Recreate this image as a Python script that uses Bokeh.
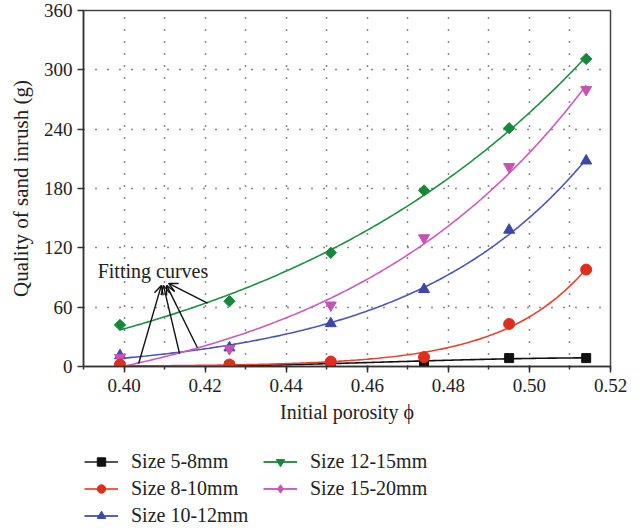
import numpy as np
from bokeh.plotting import figure
from bokeh.layouts import column
from bokeh.models import (Range1d, FixedTicker, NumeralTickFormatter, Legend, LegendItem,
                          Arrow, OpenHead, Label)
from bokeh.embed import file_html
from bokeh.resources import INLINE

# ---------------- data ----------------
porosity = [0.399, 0.426, 0.451, 0.474, 0.495, 0.514]
size_5_8 = [0.6, 0.9, 3, 5, 8.5, 8.5]
size_8_10 = [2, 2, 5, 9.5, 43, 98]
size_10_12 = [11, 19, 43.5, 78, 138, 208]
size_12_15 = [42, 66, 115, 178, 241, 311]
size_15_20 = [9, 18, 62, 130, 202, 280]
series_names = ["Size 5-8mm", "Size 8-10mm", "Size 10-12mm", "Size 12-15mm", "Size 15-20mm"]

x_ticks = [0.40, 0.42, 0.44, 0.46, 0.48, 0.50, 0.52]
x_minor = [0.39, 0.40, 0.41, 0.42, 0.43, 0.44, 0.45, 0.46, 0.47, 0.48, 0.49, 0.50, 0.51, 0.52]
x_grid = [0.40, 0.41, 0.42, 0.43, 0.44, 0.45, 0.46, 0.47, 0.48, 0.49, 0.50, 0.51]
y_ticks = [0, 60, 120, 180, 240, 300, 360]

annot_text = "Fitting curves"
annot_pos = (0.3935, 97)
arrow_tail_x = [0.4206, 0.4181, 0.4137, 0.4036]
arrow_tail_y = [64, 19, 13, 3]
arrow_head_x = [0.4110, 0.4105, 0.4097, 0.4092]
arrow_head_y = [84, 82, 82, 82]

FONT = "Liberation Serif"


def exp_fit(x, y):
    """least-squares fit of y = a*exp(b*x) + c (grid search over b)."""
    x = np.asarray(x, float)
    y = np.asarray(y, float)
    best = None
    for b in np.linspace(1, 120, 2000):
        A = np.column_stack([np.exp(b * (x - x[0])), np.ones_like(x)])
        coef, *_ = np.linalg.lstsq(A, y, rcond=None)
        res = np.sum((A @ coef - y) ** 2)
        if best is None or res < best[0]:
            best = (res, b, coef)
    _, b, coef = best
    return lambda t: coef[0] * np.exp(b * (t - x[0])) + coef[1]


def cubic_fit(x, y):
    coef = np.polyfit(x, y, 3)
    return lambda t: np.polyval(coef, t)


p = figure(width=642, height=440, x_range=Range1d(0.39, 0.52), y_range=Range1d(0, 360),
           output_backend="svg", toolbar_location=None,
           min_border_left=83, min_border_right=32, min_border_top=10, min_border_bottom=74)
p.outline_line_color = "#444444"
p.outline_line_width = 1.5

for ax in (p.xaxis[0], p.yaxis[0]):
    ax.axis_line_color = "#333333"
    ax.axis_line_width = 1.5
    ax.major_tick_line_color = "#333333"
    ax.major_tick_line_width = 1.5
    ax.minor_tick_line_color = "#333333"
    ax.minor_tick_line_width = 1.5
    ax.major_tick_in = 0
    ax.major_tick_out = 6
    ax.minor_tick_in = 0
    ax.major_label_text_font = FONT
    ax.major_label_text_font_size = "19px"
    ax.major_label_text_color = "#222222"
    ax.axis_label_text_font = FONT
    ax.axis_label_text_font_style = "normal"
    ax.axis_label_text_color = "#222222"

p.xaxis.ticker = FixedTicker(ticks=x_ticks, minor_ticks=x_minor)
p.xaxis.formatter = NumeralTickFormatter(format="0.00")
p.xaxis.minor_tick_out = 3
p.xaxis.major_label_standoff = 6
p.xaxis.axis_label = "Initial porosity \u03d5"
p.xaxis.axis_label_text_font_size = "20px"
p.xaxis.axis_label_standoff = 6

p.yaxis.ticker = FixedTicker(ticks=y_ticks, minor_ticks=[])
p.yaxis.minor_tick_out = 0
p.yaxis.major_label_standoff = 5
p.yaxis.axis_label = "Quality of sand inrush (g)"
p.yaxis.axis_label_text_font_size = "21px"
p.yaxis.axis_label_standoff = 8

p.xgrid.ticker = FixedTicker(ticks=x_grid)
p.ygrid.ticker = FixedTicker(ticks=y_ticks[1:-1])
for g in (p.xgrid[0], p.ygrid[0]):
    g.grid_line_color = "#111111"
    g.grid_line_width = 1.5
    g.grid_line_dash = "1 11"

# (values, marker colour, line colour, marker, angle, size, fit, legend marker, legend size)
styles = {
    "Size 5-8mm": (size_5_8, "#111111", "#111111", "square", 0.0, 9, cubic_fit, "square", 8),
    "Size 10-12mm": (size_10_12, "#3d47a8", "#4a55b8", "triangle", 0.0, 11, exp_fit, "triangle", 10),
    "Size 15-20mm": (size_15_20, "#c652b4", "#cc5abb", "inverted_triangle", 0.0, 11, exp_fit, "diamond", 14),
    "Size 12-15mm": (size_12_15, "#14893b", "#1f8f46", "square", np.pi / 4, 8, exp_fit, "inverted_triangle", 10),
    "Size 8-10mm": (size_8_10, "#e02d1c", "#e8402f", "circle", 0.0, 11, exp_fit, "circle", 9),
}
legend_line_colors = {"Size 5-8mm": "#555555", "Size 8-10mm": "#e8604f",
                      "Size 10-12mm": "#5560bd", "Size 12-15mm": "#2a9450",
                      "Size 15-20mm": "#cf62be"}

xs = np.linspace(min(porosity), max(porosity), 200)
for name, (vals, mcol, lcol, mk, ang, sz, fit, _, _) in styles.items():
    f = fit(porosity, vals)
    p.line(xs, f(xs), line_color=lcol, line_width=1.6)
for name, (vals, mcol, lcol, mk, ang, sz, fit, _, _) in styles.items():
    p.scatter(porosity, vals, marker=mk, angle=ang, size=sz, fill_color=mcol, line_color=mcol)

p.add_layout(Label(x=annot_pos[0], y=annot_pos[1], text=annot_text, text_font=FONT,
                   text_font_size="20px", text_color="#222222", text_baseline="middle",
                   text_align="left"))
for tx, ty, hx, hy in zip(arrow_tail_x, arrow_tail_y, arrow_head_x, arrow_head_y):
    p.add_layout(Arrow(x_start=tx, y_start=ty, x_end=hx, y_end=hy, line_color="#111111",
                       line_width=1.4, end=OpenHead(size=9, line_color="#111111", line_width=1.4)))

# ---------------- legend panel (separate figure below the chart) ----------------
lf = figure(width=642, height=90, x_range=Range1d(0, 1), y_range=Range1d(1000, 1001),
            x_axis_type=None, y_axis_type=None, output_backend="svg", toolbar_location=None,
            min_border_left=0, min_border_right=0, min_border_top=0, min_border_bottom=0)
lf.outline_line_color = None
lf.background_fill_color = "white"
lf.border_fill_color = "white"

items = []
for name in series_names:
    vals, mcol, lcol, mk, ang, sz, fit, legmk, legsz = styles[name]
    # series lie outside this panel's visible range; only their legend symbols show
    r1 = lf.line(porosity, vals, line_color=legend_line_colors[name], line_width=2)
    r2 = lf.scatter(porosity, vals, marker=legmk, size=legsz, fill_color=mcol, line_color=mcol)
    items.append(LegendItem(label=name, renderers=[r1, r2]))

legend = Legend(items=items, location=(1, 3), orientation="vertical", nrows=3,
                glyph_width=34, glyph_height=21, label_height=21, label_width=128,
                label_standoff=13, spacing=4, padding=0, margin=0,
                border_line_color=None, background_fill_alpha=0,
                label_text_font=FONT, label_text_font_size="20px", label_text_color="#222222")
lf.add_layout(legend, "center")

layout = column(p, lf, spacing=0)
open("out.html", "w").write(file_html(layout, INLINE))
